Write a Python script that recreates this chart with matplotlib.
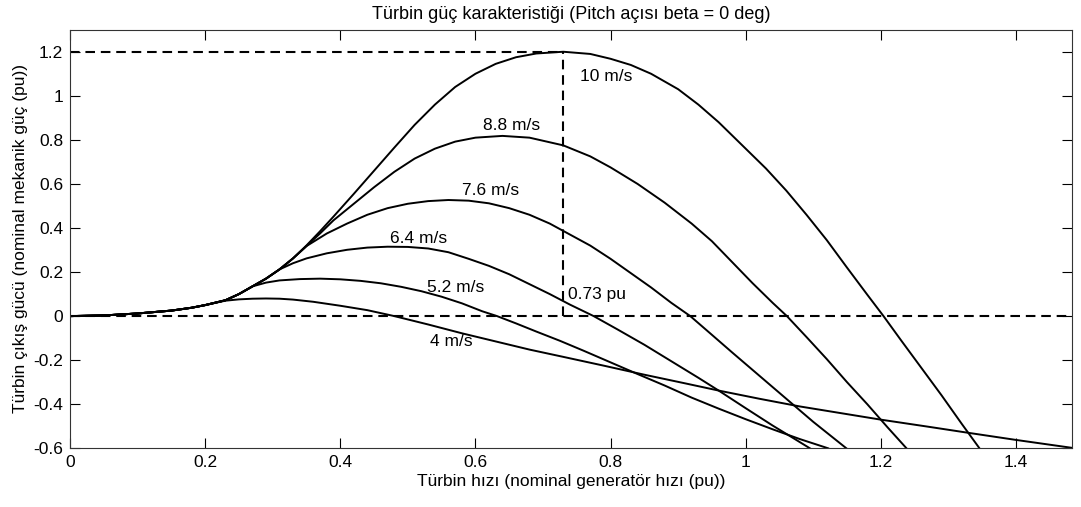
import matplotlib
matplotlib.use("Agg")
import matplotlib.pyplot as plt

plt.rcParams['font.family'] = ['Liberation Sans', 'DejaVu Sans']

# turbine speed (pu) / output power (pu), one pair per wind speed
x_10 = [0, 0.05, 0.10, 0.15, 0.18, 0.20, 0.23, 0.25, 0.27, 0.29, 0.31, 0.33, 0.35, 0.37, 0.39,
        0.42, 0.45, 0.48, 0.51, 0.54, 0.57, 0.60, 0.63, 0.66, 0.69, 0.73, 0.77, 0.80, 0.83, 0.86,
        0.90, 0.93, 0.96, 1.00, 1.03, 1.06, 1.09, 1.12, 1.15, 1.18, 1.204, 1.23, 1.26, 1.29, 1.32, 1.346]
y_10 = [0, 0.003, 0.012, 0.025, 0.038, 0.05, 0.072, 0.10, 0.135, 0.17, 0.212, 0.262, 0.321, 0.385, 0.452,
        0.555, 0.66, 0.765, 0.868, 0.96, 1.04, 1.10, 1.145, 1.175, 1.192, 1.2, 1.19, 1.168, 1.14, 1.10,
        1.03, 0.96, 0.88, 0.76, 0.67, 0.57, 0.46, 0.345, 0.22, 0.097, 0.0, -0.11, -0.235, -0.36, -0.49, -0.6]

x_88 = [0, 0.05, 0.10, 0.15, 0.18, 0.20, 0.23, 0.25, 0.27, 0.29, 0.31, 0.33, 0.35, 0.37, 0.39,
        0.42, 0.45, 0.48, 0.51, 0.54, 0.57, 0.60, 0.64, 0.68, 0.73, 0.77, 0.80, 0.84, 0.88, 0.92,
        0.95, 0.98, 1.01, 1.04, 1.061, 1.09, 1.12, 1.15, 1.18, 1.21, 1.238]
y_88 = [0, 0.003, 0.012, 0.025, 0.038, 0.05, 0.072, 0.10, 0.135, 0.17, 0.212, 0.262, 0.318, 0.375, 0.435,
        0.51, 0.585, 0.655, 0.715, 0.76, 0.792, 0.81, 0.818, 0.81, 0.775, 0.725, 0.675, 0.60, 0.515, 0.42,
        0.34, 0.245, 0.15, 0.06, 0.0, -0.095, -0.195, -0.30, -0.40, -0.505, -0.6]

x_76 = [0, 0.05, 0.10, 0.15, 0.18, 0.20, 0.23, 0.25, 0.27, 0.29, 0.31, 0.33, 0.35, 0.38, 0.41,
        0.44, 0.47, 0.50, 0.53, 0.56, 0.59, 0.62, 0.65, 0.68, 0.71, 0.74, 0.77, 0.80, 0.83, 0.86,
        0.89, 0.918, 0.95, 0.98, 1.02, 1.06, 1.10, 1.149]
y_76 = [0, 0.003, 0.012, 0.025, 0.038, 0.05, 0.072, 0.10, 0.135, 0.17, 0.212, 0.262, 0.318, 0.375, 0.42,
        0.46, 0.49, 0.51, 0.522, 0.527, 0.524, 0.512, 0.49, 0.46, 0.42, 0.37, 0.32, 0.26, 0.195, 0.13,
        0.06, 0.0, -0.085, -0.165, -0.27, -0.375, -0.48, -0.6]

x_64 = [0, 0.05, 0.10, 0.15, 0.18, 0.20, 0.23, 0.25, 0.27, 0.29, 0.31, 0.33, 0.35, 0.38, 0.41,
        0.44, 0.47, 0.50, 0.53, 0.56, 0.59, 0.62, 0.65, 0.68, 0.71, 0.74, 0.775, 0.81, 0.85, 0.89,
        0.93, 0.96, 1.00, 1.04, 1.07, 1.095]
y_64 = [0, 0.003, 0.012, 0.025, 0.038, 0.05, 0.072, 0.10, 0.135, 0.17, 0.212, 0.24, 0.262, 0.285, 0.301,
        0.311, 0.315, 0.314, 0.307, 0.29, 0.26, 0.228, 0.19, 0.145, 0.10, 0.052, 0.0, -0.06, -0.13, -0.205,
        -0.28, -0.338, -0.418, -0.497, -0.553, -0.6]

x_52 = [0, 0.05, 0.10, 0.15, 0.18, 0.20, 0.23, 0.25, 0.27, 0.29, 0.31, 0.34, 0.37, 0.40, 0.43,
        0.46, 0.49, 0.52, 0.55, 0.58, 0.61, 0.632, 0.66, 0.69, 0.725, 0.76, 0.80, 0.84, 0.88, 0.92,
        0.96, 1.00, 1.041, 1.08, 1.122]
y_52 = [0, 0.003, 0.012, 0.025, 0.038, 0.05, 0.072, 0.10, 0.135, 0.152, 0.162, 0.168, 0.17, 0.167, 0.16,
        0.149, 0.133, 0.113, 0.088, 0.058, 0.022, 0.0, -0.033, -0.07, -0.112, -0.157, -0.21, -0.263, -0.315, -0.37,
        -0.42, -0.468, -0.515, -0.558, -0.6]

x_4 = [0, 0.05, 0.10, 0.15, 0.18, 0.20, 0.23, 0.25, 0.27, 0.29, 0.31, 0.33, 0.36, 0.40, 0.44,
       0.48, 0.53, 0.58, 0.63, 0.68, 0.73, 0.79, 0.85, 0.91, 0.96, 1.02, 1.08, 1.14, 1.20, 1.27,
       1.33, 1.40, 1.483]
y_4 = [0, 0.003, 0.012, 0.025, 0.038, 0.05, 0.07, 0.076, 0.079, 0.08, 0.079, 0.075, 0.065, 0.047, 0.027,
       0.0, -0.038, -0.078, -0.115, -0.152, -0.185, -0.225, -0.266, -0.305, -0.338, -0.375, -0.41, -0.44, -0.47, -0.502,
       -0.53, -0.562, -0.598]

curves = [(x_10, y_10), (x_88, y_88), (x_76, y_76), (x_64, y_64), (x_52, y_52), (x_4, y_4)]

# labels and where they sit (data coords, left edge / vertical centre)
labels = ['10 m/s', '8.8 m/s', '7.6 m/s', '6.4 m/s', '5.2 m/s', '4 m/s']
label_x = [0.755, 0.611, 0.580, 0.474, 0.528, 0.533]
label_y = [1.089, 0.863, 0.572, 0.350, 0.129, -0.115]

peak_speed = 0.73
peak_power = 1.2

xticks = [0, 0.2, 0.4, 0.6, 0.8, 1.0, 1.2, 1.4]
xticklabels = ['0', '0.2', '0.4', '0.6', '0.8', '1', '1.2', '1.4']
yticks = [-0.6, -0.4, -0.2, 0, 0.2, 0.4, 0.6, 0.8, 1.0, 1.2]
yticklabels = ['-0.6', '-0.4', '-0.2', '0', '0.2', '0.4', '0.6', '0.8', '1', '1.2']

fig = plt.figure(figsize=(10.81, 5.07), dpi=100)
ax = fig.add_axes([0.0648, 0.1158, 0.9269, 0.8256])

for xs, ys in curves:
    ax.plot(xs, ys, color='black', lw=1.4, solid_joinstyle='round')

dash = (0, (4.6, 2.8))
xmax = 1.483
ax.plot([0, xmax], [0, 0], color='black', lw=1.5, linestyle=dash)
ax.plot([0, peak_speed], [peak_power, peak_power], color='black', lw=1.5, linestyle=dash)
ax.plot([peak_speed, peak_speed], [0, peak_power], color='black', lw=1.5, linestyle=dash)

for t, lx, ly in zip(labels, label_x, label_y):
    ax.text(lx, ly, t, fontsize=12.5, ha='left', va='center')
ax.text(0.737, 0.097, '0.73 pu', fontsize=12.5, ha='left', va='center')

ax.set_xlim(0, xmax)
ax.set_ylim(-0.6, 1.3)
ax.set_xticks(xticks)
ax.set_xticklabels(xticklabels)
ax.set_yticks(yticks)
ax.set_yticklabels(yticklabels)
ax.tick_params(direction='in', length=7, width=0.8, top=True, right=True, labelsize=12.5, pad=5)
for s in ax.spines.values():
    s.set_linewidth(0.8)
    s.set_color('#333333')

ax.set_title('Türbin güç karakteristiği (Pitch açısı beta = 0 deg)', fontsize=13, pad=8)
ax.set_xlabel('Türbin hızı (nominal generatör hızı (pu))', fontsize=12.5, labelpad=3)
ax.set_ylabel('Türbin çıkış gücü (nominal mekanik güç (pu))', fontsize=12.5, labelpad=4)

fig.savefig('out.png', dpi=100)
